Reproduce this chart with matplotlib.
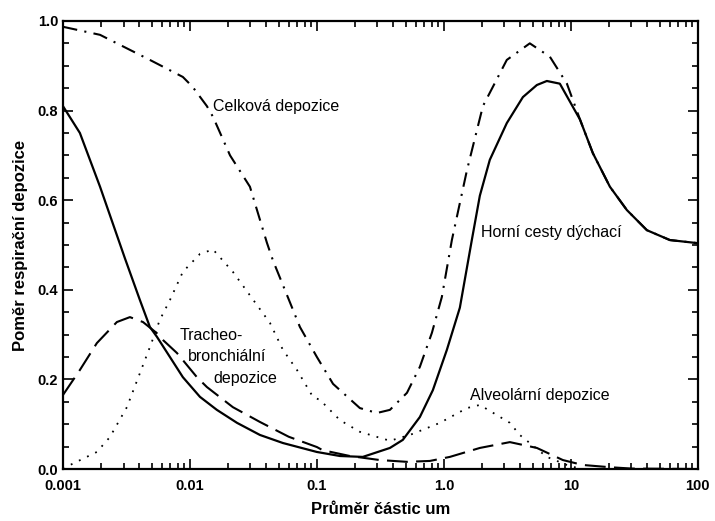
import numpy as np
import matplotlib
matplotlib.use('Agg')
import matplotlib.pyplot as plt
from matplotlib.ticker import FixedLocator, NullFormatter

plt.rcParams['font.family'] = ['Liberation Sans', 'DejaVu Sans']

# values (diameter in um, fraction deposited)
d_horni = [0.001, 0.00136, 0.00196, 0.00308, 0.00404, 0.00484, 0.0055, 0.00696,
           0.0088, 0.012, 0.0163, 0.0235, 0.0356, 0.054, 0.1, 0.152, 0.23,
           0.376, 0.475, 0.647, 0.819, 1.056, 1.336, 1.66, 1.92, 2.30, 3.13,
           4.19, 5.4, 6.47, 8.19, 11.8, 14.9, 20.3, 27.6, 39.7, 60.2, 100]
v_horni = [0.81, 0.75, 0.63, 0.47, 0.377, 0.317, 0.295, 0.25,
           0.205, 0.161, 0.132, 0.103, 0.076, 0.058, 0.038, 0.029, 0.027,
           0.047, 0.065, 0.116, 0.176, 0.266, 0.36, 0.511, 0.61, 0.69, 0.772,
           0.83, 0.857, 0.866, 0.86, 0.78, 0.705, 0.63, 0.578, 0.533, 0.511, 0.504]

d_celk = [0.001, 0.00196, 0.00484, 0.0088, 0.0105, 0.0136, 0.0152, 0.0207, 0.0297,
          0.0404, 0.045, 0.0735, 0.1, 0.134, 0.152, 0.218, 0.297, 0.376,
          0.512, 0.647, 0.805, 0.964, 1.156, 1.52, 2.03, 3.13, 4.75, 6.84,
          9.31, 11.8, 14.9, 20.3, 27.6, 39.7, 60.2, 100]
v_celk = [0.987, 0.969, 0.913, 0.875, 0.853, 0.81, 0.786, 0.70, 0.63,
          0.505, 0.466, 0.317, 0.25, 0.19, 0.176, 0.136, 0.125, 0.132,
          0.17, 0.228, 0.304, 0.384, 0.511, 0.667, 0.81, 0.913, 0.95, 0.92,
          0.86, 0.78, 0.705, 0.63, 0.578, 0.533, 0.511, 0.504]

d_tb = [0.001, 0.00136, 0.00185, 0.00266, 0.00337, 0.00427, 0.0055, 0.00613,
        0.0079, 0.0088, 0.01135, 0.0136, 0.0218, 0.0356, 0.06, 0.1, 0.111,
        0.182, 0.313, 0.512, 0.776, 1.114, 1.92, 3.31, 5.4, 8.65, 12.4,
        20.3, 30, 100]
v_tb = [0.165, 0.221, 0.281, 0.328, 0.339, 0.328, 0.303, 0.288,
        0.259, 0.243, 0.205, 0.183, 0.138, 0.105, 0.072, 0.049, 0.042,
        0.029, 0.02, 0.016, 0.018, 0.027, 0.047, 0.06, 0.047, 0.02, 0.009,
        0.004, 0.001, 0.0]

d_alv = [0.001, 0.00114, 0.00185, 0.00234, 0.00319, 0.00404, 0.00484, 0.0058,
         0.00696, 0.0088, 0.012, 0.0152, 0.0218, 0.0427, 0.054, 0.0697, 0.093,
         0.106, 0.152, 0.218, 0.376, 0.54, 0.931, 1.52, 1.92, 3.31, 3.96,
         6.47, 9.31, 12, 100]
v_alv = [0.0, 0.009, 0.038, 0.071, 0.138, 0.214, 0.272, 0.333,
         0.377, 0.44, 0.48, 0.49, 0.44, 0.326, 0.266, 0.221, 0.161,
         0.154, 0.109, 0.083, 0.063, 0.076, 0.103, 0.136, 0.143, 0.103, 0.076,
         0.027, 0.009, 0.0, 0.0]

xticks = [0.001, 0.01, 0.1, 1, 10, 100]
xticklabels = ['0.001', '0.01', '0.1', '1.0', '10', '100']
yticks = [0.0, 0.2, 0.4, 0.6, 0.8, 1.0]
yticklabels = ['0.0', '0.2', '0.4', '0.6', '0.8', '1.0']

fig = plt.figure(figsize=(7.15, 5.21), dpi=100)
ax = fig.add_axes([0.088, 0.0998, 0.888, 0.86])

ax.plot(d_horni, v_horni, color='black', lw=1.6)
ax.plot(d_celk, v_celk, color='black', lw=1.5, linestyle=(0, (7, 3.5, 1, 3.5)))
ax.plot(d_tb, v_tb, color='black', lw=1.5, linestyle=(0, (10, 4)))
ax.plot(d_alv, v_alv, color='black', lw=1.3, linestyle=(0, (1, 4)))

ax.set_xscale('log')
ax.set_xlim(0.001, 100)
ax.set_ylim(0, 1)
ax.set_xticks(xticks)
ax.set_xticklabels(xticklabels)
ax.xaxis.set_minor_locator(FixedLocator([m * 10.0**e for e in range(-3, 2) for m in range(2, 10)]))
ax.xaxis.set_minor_formatter(NullFormatter())
ax.set_yticks(yticks)
ax.set_yticklabels(yticklabels)
ax.yaxis.set_minor_locator(FixedLocator([0.05 * i for i in range(21)]))

ax.tick_params(which='both', direction='in', top=True, right=True, width=1.2)
ax.tick_params(which='major', length=7, labelsize=10.5)
ax.tick_params(which='minor', length=4)
ax.tick_params(axis='x', which='major', pad=7)
for lab in ax.get_xticklabels() + ax.get_yticklabels():
    lab.set_fontweight('bold')
for s in ax.spines.values():
    s.set_linewidth(1.6)

ax.set_xlabel('Průměr částic um', fontsize=12, fontweight='bold', labelpad=7)
ax.set_ylabel('Poměr respirační depozice', fontsize=12, fontweight='bold', labelpad=7)

fs = 11.5
ax.text(0.0152, 0.808, 'Celková depozice', fontsize=fs, va='center')
ax.text(1.95, 0.528, 'Horní cesty dýchací', fontsize=fs, va='center')
ax.text(0.0083, 0.299, 'Tracheo-', fontsize=fs, va='center')
ax.text(0.0096, 0.25, 'bronchiální', fontsize=fs, va='center')
ax.text(0.0152, 0.203, 'depozice', fontsize=fs, va='center')
ax.text(1.6, 0.165, 'Alveolární depozice', fontsize=fs, va='center')

fig.savefig('out.png', dpi=100)
